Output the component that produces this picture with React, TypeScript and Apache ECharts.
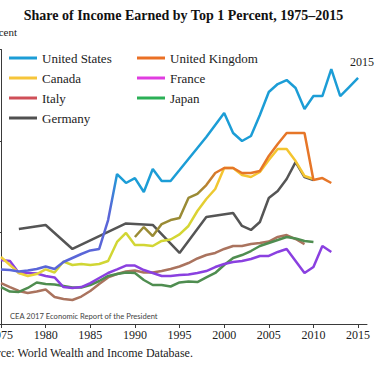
import React, { useEffect, useRef } from "react";
import * as echarts from "echarts";

// ---------- data (percent share of income) ----------
const allYears = [
  1975, 1976, 1977, 1978, 1979, 1980, 1981, 1982, 1983, 1984, 1985, 1986, 1987, 1988,
  1989, 1990, 1991, 1992, 1993, 1994, 1995, 1996, 1997, 1998, 1999, 2000, 2001, 2002,
  2003, 2004, 2005, 2006, 2007, 2008, 2009, 2010, 2011, 2012, 2013, 2014, 2015,
];
const xTickYears = [1975, 1980, 1985, 1990, 1995, 2000, 2005, 2010, 2015];

// 1975–2015
const unitedStates = [
  4.77, 4.72, 4.59, 4.68, 4.81, 5.03, 4.81, 5.42, 5.77, 6.12, 6.43, 6.56, 9.09, 13.11,
  12.33, 12.76, 11.54, 13.55, 12.5, 12.5, 13.46, 14.43, 15.39, 16.35, 17.4, 18.45, 16.7,
  16.0, 16.44, 18.27, 20.28, 20.98, 21.33, 20.63, 18.8, 19.93, 19.93, 22.29, 19.93, 20.72,
  21.51,
];
// 1990–2012
const ukYears = [
  1990, 1991, 1992, 1993, 1994, 1995, 1996, 1997, 1998, 1999, 2000, 2001, 2002, 2003,
  2004, 2005, 2006, 2007, 2008, 2009, 2010, 2011, 2012,
];
const unitedKingdom = [
  7.61, 8.48, 7.69, 8.74, 9.09, 9.27, 11.02, 11.37, 12.15, 13.2, 13.64, 13.64, 13.2, 13.2,
  13.38, 14.69, 15.74, 16.7, 16.7, 16.7, 12.59, 12.76, 12.33,
];
// 1975–2010
const canada = [
  5.86, 5.16, 4.46, 4.2, 4.37, 4.77, 4.5, 5.46, 5.16, 5.25, 5.16, 5.25, 5.51, 7.17, 7.96,
  6.91, 6.91, 6.82, 7.26, 7.39, 7.83, 8.57, 9.88, 10.93, 11.8, 13.64, 13.64, 13.03, 12.85,
  13.29, 14.34, 15.3, 15.3, 14.25, 12.94, 12.68,
];
// 1975–2012
const france = [
  5.6, 5.51, 4.46, 4.46, 4.42, 4.2, 4.07, 3.23, 3.15, 3.23, 3.58, 4.02, 4.46, 4.77, 5.11,
  5.11, 4.72, 4.46, 4.2, 4.2, 4.28, 4.33, 4.46, 4.63, 4.98, 5.25, 5.42, 5.51, 5.68, 5.95,
  5.95, 6.3, 6.56, 5.51, 4.46, 4.98, 6.82, 6.3,
];
// 1975–2009
const italy = [
  3.58, 3.23, 2.89, 2.71, 2.84, 3.02, 2.36, 2.19, 2.1, 2.4, 2.89, 3.5, 4.07, 4.37, 4.59,
  4.68, 4.5, 4.5, 4.63, 4.81, 5.03, 5.33, 5.73, 6.03, 6.21, 6.56, 6.82, 6.82, 6.99, 7.08,
  7.21, 7.61, 7.78, 7.43, 6.99,
];
// 1975–2010
const japan = [
  3.23, 2.84, 2.8, 3.15, 3.63, 3.5, 3.45, 3.32, 3.19, 3.19, 3.41, 3.76, 4.2, 4.37, 4.5,
  4.46, 3.85, 3.41, 3.41, 3.28, 3.63, 3.72, 3.67, 4.07, 4.46, 5.16, 5.77, 6.03, 6.38, 6.82,
  7.08, 7.34, 7.61, 7.48, 7.26, 7.17,
];
const germanyYears = [
  1977, 1980, 1983, 1986, 1989, 1992, 1995, 1998, 2001, 2002, 2003, 2004, 2005, 2006, 2007,
  2008, 2009, 2010,
];
const germany = [
  8.31, 8.66, 6.56, 7.69, 8.79, 8.66, 6.21, 9.36, 9.7, 8.57, 8.22, 8.92, 11.02, 11.63, 12.68,
  14.16, 12.85, 12.59,
];

const pairs = (xs: number[], vs: number[]) => vs.map((v, i) => [xs[i], v]);

const serif = "Liberation Serif";

const frac = (y: number, a: number, b: number) => (y - a) / (b - a);

export default function App() {
  const ref = useRef<HTMLDivElement>(null);

  useEffect(() => {
    if (!ref.current) return;
    const chart = echarts.init(ref.current, null, { renderer: "svg" });

    const usColor = new echarts.graphic.LinearGradient(0, 0, 1, 0, [
      { offset: 0, color: "#5a66d8" },
      { offset: frac(1987.2, 1975, 2015), color: "#5a66d8" },
      { offset: frac(1988, 1975, 2015), color: "#1c9dd6" },
      { offset: 1, color: "#1c9dd6" },
    ]);
    const ukColor = new echarts.graphic.LinearGradient(0, 0, 1, 0, [
      { offset: 0, color: "#9a8b35" },
      { offset: frac(1997, 1990, 2012), color: "#9a8b35" },
      { offset: frac(1999.5, 1990, 2012), color: "#e67628" },
      { offset: 1, color: "#e67628" },
    ]);
    const caColor = new echarts.graphic.LinearGradient(0, 0, 1, 0, [
      { offset: 0, color: "#f2cf3a" },
      { offset: frac(1979, 1975, 2010), color: "#e6d43a" },
      { offset: frac(1982, 1975, 2010), color: "#cfd634" },
      { offset: frac(1996, 1975, 2010), color: "#d4d634" },
      { offset: frac(1999.5, 1975, 2010), color: "#f4c530" },
      { offset: 1, color: "#f4c530" },
    ]);

    const mk = (
      name: string,
      data: number[][],
      line: any,
      legendColor: string,
      extra: any = {}
    ) => ({
      name,
      type: "line",
      data,
      showSymbol: false,
      symbol: "none",
      itemStyle: { color: legendColor },
      lineStyle: { color: line, width: 2.5 },
      emphasis: { disabled: true },
      ...extra,
    });

    const legendText = { fontFamily: serif, fontSize: 13, color: "#222", lineHeight: 14 };
    const legendBase = {
      orient: "vertical",
      top: 51,
      padding: 0,
      itemWidth: 28,
      itemHeight: 3,
      itemGap: 6,
      icon: "rect",
      selectedMode: false,
      textStyle: legendText,
    };
    const li = (name: string, color: string) => ({
      name,
      itemStyle: { color },
      textStyle: legendText,
    });

    chart.setOption({
      animation: false,
      textStyle: { fontFamily: serif },
      grid: { left: 1, right: 8, top: 49.5, bottom: 42, outerBoundsMode: "none", containLabel: false },
      xAxis: {
        type: "value",
        min: 1975,
        max: 2016,
        axisLine: { lineStyle: { color: "#3a3a3a", width: 1 } },
        axisTick: {
          show: true,
          length: 4,
          customValues: xTickYears,
          lineStyle: { color: "#3a3a3a" },
        },
        axisLabel: {
          customValues: xTickYears,
          margin: 5,
          fontFamily: serif,
          fontSize: 12,
          color: "#222",
          hideOverlap: false,
          formatter: (v: number) => String(v),
        },
        splitLine: { show: false },
      },
      yAxis: {
        type: "value",
        min: 0,
        max: 24,
        interval: 8,
        axisLine: { show: true, lineStyle: { color: "#3a3a3a", width: 1 } },
        axisTick: { show: true, length: 4, lineStyle: { color: "#3a3a3a" } },
        axisLabel: { show: false },
        splitLine: { show: false },
      },
      legend: [
        {
          ...legendBase,
          left: 9,
          data: [
            li("United States", "#1c9dd6"),
            li("Canada", "#f6c53a"),
            li("Italy", "#cf4f58"),
            li("Germany", "#505050"),
          ],
        },
        {
          ...legendBase,
          left: 137,
          data: [
            li("United Kingdom", "#ea7025"),
            li("France", "#e03ce0"),
            li("Japan", "#2bb056"),
          ],
        },
      ],
      series: [
        mk("Germany", pairs(germanyYears, germany), "#555555", "#505050", { connectNulls: true }),
        mk("Italy", pairs(allYears, italy), "#aa735e", "#cf4f58"),
        mk("Japan", pairs(allYears, japan), "#4f8d50", "#2bb056"),
        mk("France", pairs(allYears, france), "#8a40e0", "#e03ce0"),
        mk("Canada", pairs(allYears, canada), caColor, "#f6c53a"),
        mk("United Kingdom", pairs(ukYears, unitedKingdom), ukColor, "#ea7025"),
        mk("United States", pairs(allYears, unitedStates), usColor, "#1c9dd6"),
      ],
      graphic: [
        {
          type: "text",
          x: 183.5,
          y: 15,
          style: {
            text: "Share of Income Earned by Top 1 Percent, 1975\u20132015",
            fontFamily: serif,
            fontWeight: "bold",
            fontSize: 14,
            fill: "#111",
            align: "center",
            verticalAlign: "middle",
          },
        },
        {
          type: "text",
          x: -16,
          y: 32,
          style: {
            text: "Percent",
            fontFamily: serif,
            fontSize: 11,
            fill: "#222",
            align: "left",
            verticalAlign: "middle",
          },
        },
        {
          type: "text",
          x: 362,
          y: 62,
          style: {
            text: "2015",
            fontFamily: serif,
            fontSize: 12,
            fill: "#222",
            align: "center",
            verticalAlign: "middle",
          },
        },
        {
          type: "text",
          x: 10,
          y: 316,
          style: {
            text: "CEA 2017 Economic Report of the President",
            fontFamily: "Lato",
            fontSize: 7.6,
            fill: "#444",
            align: "left",
            verticalAlign: "middle",
          },
        },
        {
          type: "text",
          x: -22,
          y: 353,
          style: {
            text: "Source: World Wealth and Income Database.",
            fontFamily: serif,
            fontSize: 12,
            fill: "#222",
            align: "left",
            verticalAlign: "middle",
          },
        },
      ],
    });

    return () => chart.dispose();
  }, []);

  return (
    <div
      ref={ref}
      style={{ position: "fixed", left: 0, top: 0, width: 375, height: 366, background: "#fff" }}
    />
  );
}
